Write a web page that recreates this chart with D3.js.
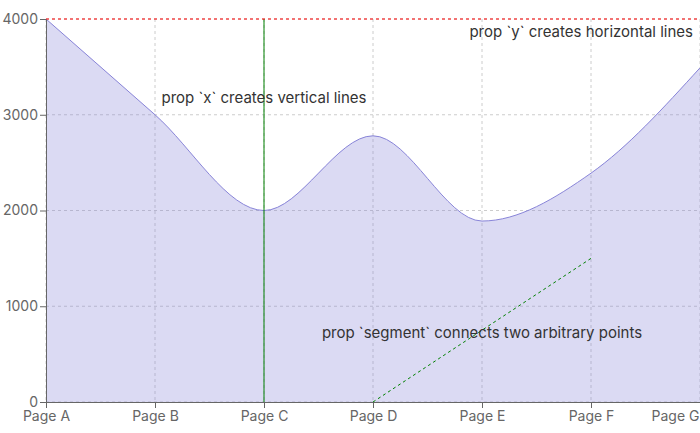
<!DOCTYPE html>
<html><head><meta charset="utf-8">
<script src="https://cdn.jsdelivr.net/npm/d3@7"></script>
<style>body{margin:0;background:#fff}svg{display:block;font-family:Inter,sans-serif}</style>
</head><body><svg id="c" width="700" height="433"></svg>
<script>
const categories = ["Page A","Page B","Page C","Page D","Page E","Page F","Page G"];
const uv = [4000,3000,2000,2780,1890,2390,3490];
const yTicks = [0,1000,2000,3000,4000];
const refX = "Page C";
const refY = 4000;
const segment = [{x:"Page D",y:0},{x:"Page F",y:1500}];
const labels = {x:"prop `x` creates vertical lines", y:"prop `y` creates horizontal lines", seg:"prop `segment` connects two arbitrary points"};

const svg = d3.select("#c");
const L=46,R=700,T=19,B=402;
const x = d3.scalePoint().domain(categories).range([L,R]);
const y = d3.scaleLinear().domain([0,4000]).range([B,T]);

const g = svg.append("g");
g.selectAll(".h").data(yTicks).join("line").attr("x1",L).attr("x2",R).attr("y1",d=>y(d)).attr("y2",d=>y(d)).attr("stroke","#ccc").attr("stroke-dasharray","3 3");
g.selectAll(".v").data(categories).join("line").attr("x1",d=>x(d)).attr("x2",d=>x(d)).attr("y1",T).attr("y2",B).attr("stroke","#ccc").attr("stroke-dasharray","3 3");

const data = categories.map((c,i)=>({c,v:uv[i]}));
svg.append("path").datum(data).attr("d",d3.area().x(d=>x(d.c)).y0(B).y1(d=>y(d.v)).curve(d3.curveMonotoneX)).attr("fill","#8884d8").attr("fill-opacity",0.3);
svg.append("path").datum(data).attr("d",d3.line().x(d=>x(d.c)).y(d=>y(d.v)).curve(d3.curveMonotoneX)).attr("fill","none").attr("stroke","#8884d8");

const xa = svg.append("g").attr("transform",`translate(0,${B})`).call(d3.axisBottom(x).tickSize(6).tickSizeOuter(0));
const ya = svg.append("g").attr("transform",`translate(${L},0)`).call(d3.axisLeft(y).tickValues(yTicks).tickSize(6).tickSizeOuter(0).tickFormat(d3.format("d")));
[xa,ya].forEach(a=>{a.select(".domain").attr("stroke","#666");a.selectAll(".tick line").attr("stroke","#666");a.selectAll("text").attr("fill","#666").attr("font-size",14).attr("font-family","Inter, sans-serif");});
xa.selectAll("text").attr("dy","0.71em").attr("y",9);
xa.selectAll(".tick").filter(d=>d===categories[categories.length-1]).select("text").attr("text-anchor","end").attr("x",-1);
ya.selectAll("text").attr("x",-8);

svg.append("line").attr("x1",x(refX)).attr("x2",x(refX)).attr("y1",T).attr("y2",B).attr("stroke","green");
svg.append("line").attr("x1",L).attr("x2",R).attr("y1",y(refY)).attr("y2",y(refY)).attr("stroke","red").attr("stroke-dasharray","3 3");
svg.append("line").attr("x1",x(segment[0].x)).attr("y1",y(segment[0].y)).attr("x2",x(segment[1].x)).attr("y2",y(segment[1].y)).attr("stroke","green").attr("stroke-dasharray","3 3");

function txt(t,px,py,anchor){svg.append("text").text(t).attr("x",px).attr("y",py).attr("text-anchor",anchor).attr("dominant-baseline","central").attr("fill","#333").attr("font-size",15);}
txt(labels.x,x(refX),97,"middle");
txt(labels.y,R-7,y(refY)+12,"end");
txt(labels.seg,(x(segment[0].x)+x(segment[1].x))/2,332,"middle");
</script></body></html>
